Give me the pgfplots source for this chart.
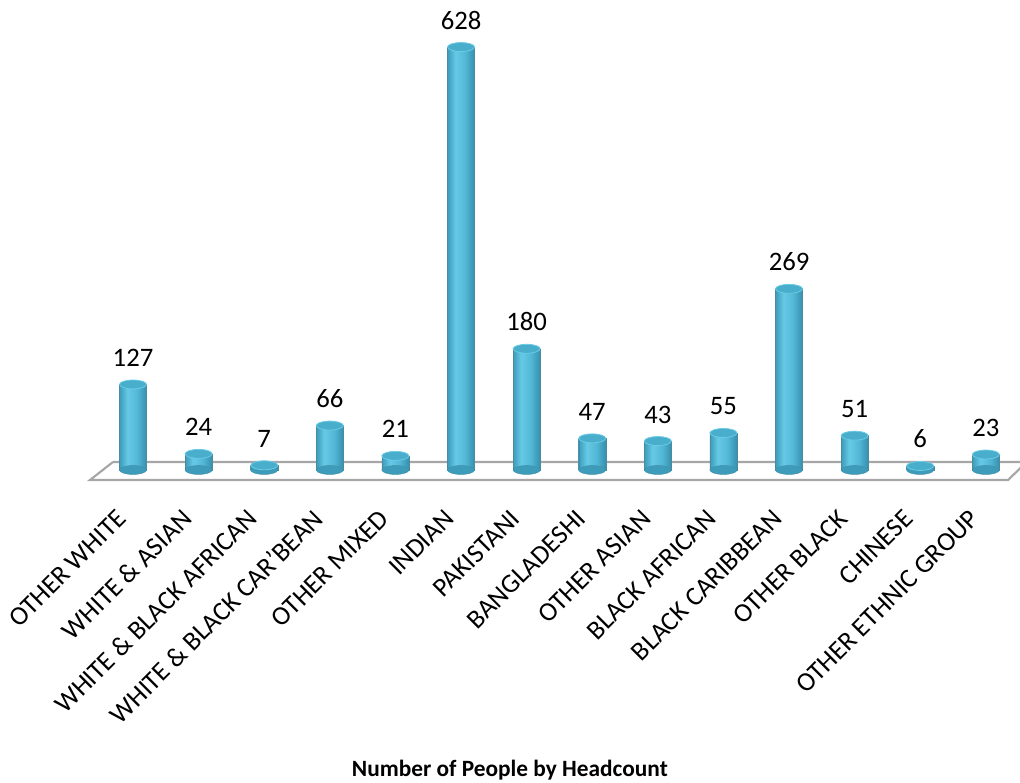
\documentclass[border=0pt]{standalone}
\usepackage{fontspec}
\setmainfont{Carlito}
\usepackage{pgfplots}
\pgfplotsset{compat=1.18}
\definecolor{cylL}{HTML}{3C9CBA}
\definecolor{cylM}{HTML}{66CAE6}
\definecolor{cylN}{HTML}{52B7D5}
\definecolor{cylR}{HTML}{3590AE}
\definecolor{cylTop}{HTML}{48AECC}
\definecolor{cylRim}{HTML}{6CCBE5}
\definecolor{floorc}{HTML}{A6A6A6}
\pgfdeclarehorizontalshading{cyl}{100bp}{color(0bp)=(cylL); color(25bp)=(cylL); color(40bp)=(cylM); color(58bp)=(cylN); color(75bp)=(cylR); color(100bp)=(cylR)}
\pgfplotsset{cylbar/.style={ybar, bar width=20.25pt, shading=cyl, draw=cylR!70!gray, line width=0.3pt, forget plot}}
\begin{document}
\begin{tikzpicture}
\useasboundingbox (-60.4pt,-223.9pt) rectangle (704.6pt,362.6pt);
\begin{axis}[
  at={(0,0)}, anchor=south west,
  scale only axis, width=708.5pt, height=353.6pt,
  xmin=-0.8, xmax=13.6, ymin=-20, ymax=680,
  clip=false,
  axis line style={draw=none},
  tick style={draw=none},
  major tick length=0pt,
  ytick=\empty,
  xtick={0,1,2,3,4,5,6,7,8,9,10,11,12,13},
  xticklabels={OTHER WHITE, WHITE \& ASIAN, WHITE \& BLACK AFRICAN, WHITE \& BLACK CAR’BEAN, OTHER MIXED, INDIAN, PAKISTANI, BANGLADESHI, OTHER ASIAN, BLACK AFRICAN, BLACK CARIBBEAN, OTHER BLACK, CHINESE, OTHER ETHNIC GROUP},
  xticklabel style={font=\fontsize{20}{22}\selectfont, xshift=-8.5pt, yshift=-23pt, rotate=45, anchor=east, inner sep=0pt},
]
% floor
\addplot[draw=floorc, line width=1.6pt, fill=white] coordinates {(-0.305,11.9) (13.62,11.9) (13.34,-14.8) (-0.655,-14.8) (-0.305,11.9)};
% bottom ellipses
\addplot[only marks, mark=*, mark size=10.125pt, mark options={yscale=0.33, fill=cylL, draw=cylR!80!gray, line width=0.3pt}] coordinates {
(0,0) (1,0) (2,0) (3,0) (4,0) (5,0) (6,0) (7,0) (8,0) (9,0) (10,0) (11,0) (12,0) (13,0)};
% bodies, one path each so every cylinder gets its own shading
\addplot[cylbar] coordinates {(0,127)};
\addplot[cylbar] coordinates {(1,24)};
\addplot[cylbar] coordinates {(2,7)};
\addplot[cylbar] coordinates {(3,66)};
\addplot[cylbar] coordinates {(4,21)};
\addplot[cylbar] coordinates {(5,628)};
\addplot[cylbar] coordinates {(6,180)};
\addplot[cylbar] coordinates {(7,47)};
\addplot[cylbar] coordinates {(8,43)};
\addplot[cylbar] coordinates {(9,55)};
\addplot[cylbar] coordinates {(10,269)};
\addplot[cylbar] coordinates {(11,51)};
\addplot[cylbar] coordinates {(12,6)};
\addplot[cylbar] coordinates {(13,23)};
% tops
\addplot[only marks, mark=*, mark size=10.125pt, mark options={yscale=0.33, fill=cylTop, draw=cylRim, line width=0.6pt},
  nodes near coords,
  /pgf/number format/assume math mode=true,
  every node near coord/.append style={font=\fontsize{20}{22}\selectfont, anchor=base, yshift=13.5pt, text=black}] coordinates {
(0,127) (1,24) (2,7) (3,66) (4,21) (5,628) (6,180) (7,47) (8,43) (9,55) (10,269) (11,51) (12,6) (13,23)};
\end{axis}
\node[anchor=base, font=\fontsize{17.5}{20}\selectfont\bfseries] at (322pt,-220pt) {Number of People by Headcount};
\end{tikzpicture}
\end{document}
